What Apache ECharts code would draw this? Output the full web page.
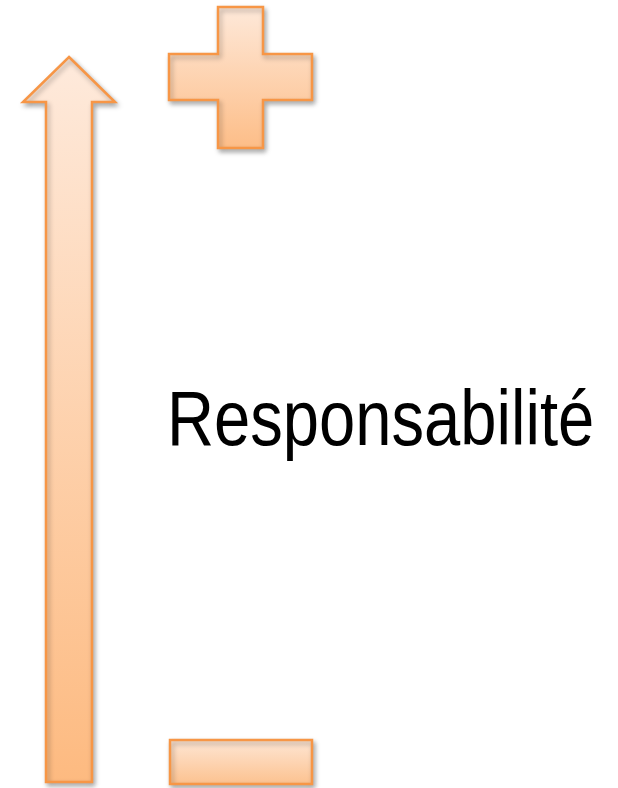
<!DOCTYPE html>
<html><head><meta charset="utf-8">
<script src="https://cdn.jsdelivr.net/npm/echarts@6/dist/echarts.min.js"></script>
<style>html,body{margin:0;padding:0;background:#fff}#c{width:618px;height:788px}</style>
</head><body><div id="c"></div>
<script>
// Shape outlines (axis units: x 0..618, y 0..788 from top)
const arrowShape = [[69,57],[115,102],[92,102],[92,782],[46,782],[46,102],[23,102]];
const plusShape = [[218,7],[263,7],[263,54],[312,54],[312,100],[263,100],[263,148],[218,148],[218,100],[169,100],[169,54],[218,54]];
const minusShape = [[170,740],[312,740],[312,784],[170,784]];
const shapes = [arrowShape, plusShape, minusShape];
const shapeColors = [['#FEEADC','#FDBA80'],['#FEE9DA','#FDBD87'],['#FEE7D6','#FCC18E']];
const labelText = ['Responsabilité'];
const labelPos = [[167,423]];

const chart = echarts.init(document.getElementById('c'));
chart.setOption({
  animation:false,
  grid:{left:0,right:0,top:0,bottom:0},
  xAxis:{type:'value',min:0,max:618,show:false},
  yAxis:{type:'value',min:0,max:788,inverse:true,show:false},
  series:[{
    type:'custom',
    data:shapes.map((s,i)=>[i]),
    renderItem:function(params,api){
      const i=api.value(0);
      const pts=shapes[i].map(p=>api.coord(p));
      return {type:'polygon',shape:{points:pts},style:{
        fill:{type:'linear',x:0,y:0,x2:0,y2:1,colorStops:[{offset:0,color:shapeColors[i][0]},{offset:1,color:shapeColors[i][1]}]},
        stroke:'#F79646',lineWidth:2.5,
        shadowBlur:5,shadowOffsetX:2,shadowOffsetY:3,shadowColor:'rgba(0,0,0,0.3)'}};
    }
  },{
    type:'custom',
    data:labelText.map((t,i)=>[i]),
    renderItem:function(params,api){
      const i=api.value(0);
      const p=api.coord(labelPos[i]);
      return {type:'text',x:p[0],y:p[1],scaleX:0.835,style:{text:labelText[i],fill:'#000',
        font:"78px 'Liberation Sans Narrow','Arial Narrow','Liberation Sans',sans-serif",align:'left',verticalAlign:'middle'}};
    }
  }]
});
</script></body></html>
